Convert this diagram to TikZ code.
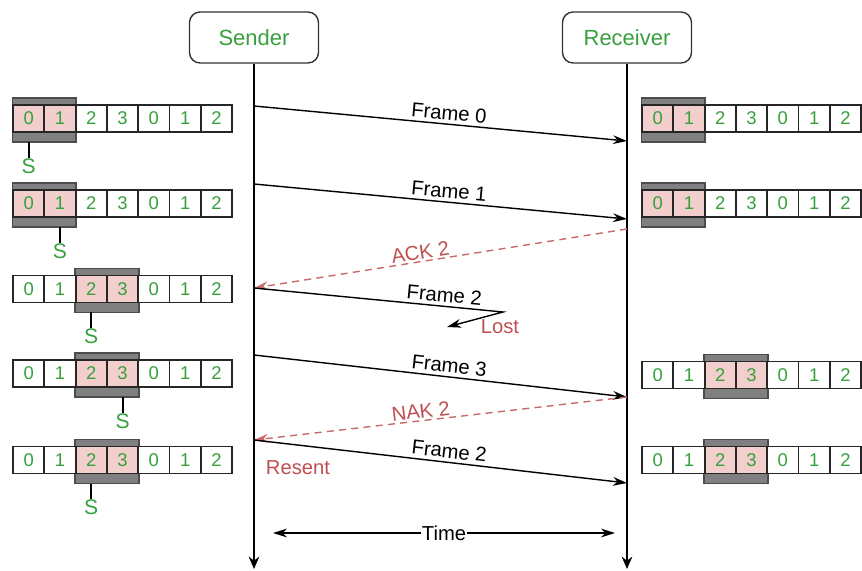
\documentclass[tikz,border=0pt]{standalone}
\usepackage{fontspec}
\setmainfont{Liberation Sans}
\usetikzlibrary{arrows.meta,positioning}

\definecolor{seqgreen}{RGB}{55,160,60}
\definecolor{seqred}{RGB}{190,80,80}
\definecolor{seqpink}{RGB}{242,206,204}
\definecolor{seqgray}{RGB}{128,128,128}

\tikzset{
  cell/.style={draw=black!85, line width=1.1pt, minimum width=0.626cm, minimum height=0.54cm, inner sep=0pt, outer sep=0pt, text=seqgreen, font=\fontsize{10.5}{12}\selectfont},
  winbox/.style={draw=black!70, fill=seqgray, line width=1pt, minimum width=1.27cm, minimum height=0.88cm, inner sep=0pt, outer sep=0pt},
  slabel/.style={text=seqgreen, font=\fontsize{12}{14}\selectfont, inner sep=0pt},
  lifebox/.style={draw=black!80, line width=0.8pt, rounded corners=6pt, minimum width=2.58cm, minimum height=1.02cm, text=seqgreen, font=\fontsize{12.5}{15}\selectfont},
  lifeline/.style={line width=1.4pt, -{Stealth[length=7pt, width=6pt]}},
  msg/.style={line width=0.8pt, -{Stealth[length=8pt, width=5pt]}},
  ack/.style={seqred!85, line width=0.8pt, dashed, dash pattern=on 4pt off 3pt, -{Stealth[length=8pt, width=5pt]}},
  msglabel/.style={font=\fontsize{11.5}{14}\selectfont, inner sep=2pt},
  redlabel/.style={text=seqred, font=\fontsize{11.5}{14}\selectfont, inner sep=1pt}
}

% name, left x, centre y, first cell of the window
\newcommand{\seqrow}[4]{%
  \node[winbox] (#1-w) at ({#2+31.3*(#4+1)},{#3+1.5}) {};
  \foreach \d [count=\k from 0] in {0,1,2,3,0,1,2} {
    \pgfmathtruncatemacro{\inw}{(\k==#4)||(\k==#4+1)}
    \ifnum\inw=1 \def\cellfill{seqpink}\else\def\cellfill{white}\fi
    \node[cell, fill=\cellfill] (#1-\k) at ({#2+15.65+31.3*\k},#3) {\d};
  }
}

\begin{document}
\begin{tikzpicture}[x=0.02cm, y=-0.02cm]
\useasboundingbox (0,0) rectangle (862,571);

\node[lifebox] (sender) at (254,37.5) {Sender};
\node[lifebox] (receiver) at (627,37.5) {Receiver};
\coordinate (sendEnd) at (sender |- 0,569);
\coordinate (recvEnd) at (receiver |- 0,569);
\draw[lifeline] (sender.south) -- (sendEnd);
\draw[lifeline] (receiver.south) -- (recvEnd);

\seqrow{l1}{13}{118.5}{0}
\seqrow{l2}{13}{203.5}{0}
\seqrow{l3}{13}{289}{2}
\seqrow{l4}{13}{373.5}{2}
\seqrow{l5}{13}{460}{2}

\seqrow{r1}{642}{118.5}{0}
\seqrow{r2}{642}{203.5}{0}
\seqrow{r4}{642}{375}{2}
\seqrow{r5}{642}{460}{2}

\node[slabel] (sl1) at (l1-0 |- 0,166) {S};
\node[slabel] (sl2) at (l2-1 |- 0,251) {S};
\node[slabel] (sl3) at (l3-2 |- 0,336) {S};
\node[slabel] (sl4) at (l4-3 |- 0,421) {S};
\node[slabel] (sl5) at (l5-2 |- 0,507) {S};
\foreach \r in {1,...,5}
  \draw[line width=1.1pt] (l\r-w.south -| sl\r) -- (sl\r.north);

\coordinate (f0s) at (sender |- 0,106);
\coordinate (f0r) at (receiver |- 0,141);
\coordinate (f1s) at (sender |- 0,184);
\coordinate (f1r) at (receiver |- 0,219);
\coordinate (a2r) at (receiver |- 0,229);
\coordinate (a2s) at (sender |- 0,288);
\coordinate (lostTurn) at (503,312);
\coordinate (lostEnd) at (447,327);
\coordinate (f3s) at (sender |- 0,355);
\coordinate (f3r) at (receiver |- 0,397);
\coordinate (n2s) at (sender |- 0,440);
\coordinate (f2r) at (receiver |- 0,483);

\draw[msg] (f0s) -- (f0r) node[msglabel, pos=0.52, sloped, above] {Frame 0};
\draw[msg] (f1s) -- (f1r) node[msglabel, pos=0.52, sloped, above] {Frame 1};
\draw[ack] (a2r) -- (a2s) node[redlabel, pos=0.55, sloped, above] {ACK 2};
\draw[msg] (a2s) -- node[msglabel, pos=0.76, sloped, above] {Frame 2} (lostTurn) -- (lostEnd);
\node[redlabel] (lost) at (500,327) {Lost};
\draw[msg] (f3s) -- (f3r) node[msglabel, pos=0.52, sloped, above] {Frame 3};
\draw[ack] (f3r) -- (n2s) node[redlabel, pos=0.55, sloped, above] {NAK 2};
\draw[msg] (n2s) -- (f2r) node[msglabel, pos=0.52, sloped, above] {Frame 2};
\node[redlabel] (resent) at (298,468) {Resent};

\coordinate (timeL) at (273,533);
\coordinate (timeR) at (615,533);
\draw[line width=0.8pt, {Stealth[length=8pt, width=5pt]}-{Stealth[length=8pt, width=5pt]}] (timeL) -- (timeR) node[midway, fill=white, inner sep=0.5pt, font=\fontsize{11.5}{14}\selectfont] {Time};

\end{tikzpicture}
\end{document}
